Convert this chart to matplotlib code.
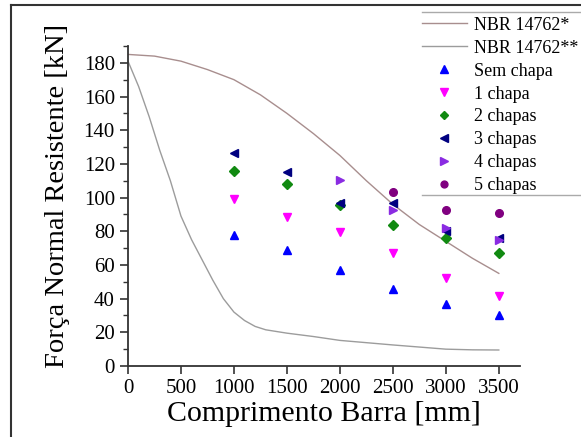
import matplotlib
matplotlib.use("Agg")
import matplotlib.pyplot as plt
from matplotlib.lines import Line2D
from matplotlib.ticker import MultipleLocator

plt.rcParams['font.family'] = ['Liberation Serif', 'DejaVu Serif']

# curvas da norma
nbr1_x = [0, 250, 500, 750, 1000, 1250, 1500, 1750, 2000, 2250, 2500, 2750, 3000, 3250, 3500]
nbr1_y = [185, 184, 181, 176, 170, 161, 150, 138, 125, 110, 96, 84, 74, 64, 55]
nbr2_x = [0, 100, 200, 300, 400, 500, 600, 700, 800, 900, 1000, 1100, 1200, 1300, 1500, 1750, 2000, 2500, 3000, 3250, 3500]
nbr2_y = [181, 166, 148, 128, 110, 89, 75, 63, 51, 40, 32, 27, 23.5, 21.5, 19.5, 17.5, 15.2, 12.5, 10, 9.6, 9.5]

# ensaios
sem_x = [1000, 1500, 2000, 2500, 3000, 3500]
sem_y = [77.8, 68.9, 57, 45.7, 36.8, 30.3]
c1_x = [1000, 1500, 2000, 2500, 3000, 3500]
c1_y = [99.2, 88.7, 79.8, 67.3, 52, 41.6]
c2_x = [1000, 1500, 2000, 2500, 3000, 3500]
c2_y = [115.9, 108, 95.7, 83.8, 76.2, 67.3]
c3_x = [1000, 1500, 2000, 2500, 3000, 3500]
c3_y = [126.3, 114.9, 97, 97, 80, 76.2]
c4_x = [2000, 2500, 3000, 3500]
c4_y = [110.5, 92.5, 82.2, 74.9]
c5_x = [2500, 3000, 3500]
c5_y = [103.2, 92.5, 91]

fig = plt.figure(figsize=(5.81, 4.37), dpi=100)
ax = fig.add_axes([128/581, 1-366/437, (520-128)/581, (366-46)/437])

ax.plot(nbr1_x, nbr1_y, color='#a88e8e', lw=1, label='NBR 14762*')
ax.plot(nbr2_x, nbr2_y, color='#9c9c9c', lw=1, label='NBR 14762**')
ms = 6
ax.plot(sem_x, sem_y, '^', color='#0000ff', ms=ms, ls='none', label='Sem chapa')
ax.plot(c1_x, c1_y, 'v', color='#ff00ff', ms=ms, ls='none', label='1 chapa')
ax.plot(c2_x, c2_y, 'D', color='#118a11', ms=5, ls='none', label='2 chapas')
ax.plot(c3_x, c3_y, '<', color='#000080', ms=ms, ls='none', label='3 chapas')
ax.plot(c4_x, c4_y, '>', color='#8a2be2', ms=ms, ls='none', label='4 chapas')
ax.plot(c5_x, c5_y, 'o', color='#800080', ms=5.5, ls='none', label='5 chapas')

ax.set_xlim(0, 3700)
ax.set_ylim(0, 190)
ax.xaxis.set_major_locator(MultipleLocator(500))
ax.yaxis.set_major_locator(MultipleLocator(20))
ax.yaxis.set_minor_locator(MultipleLocator(10))
ax.spines['top'].set_visible(False)
ax.spines['right'].set_visible(False)
for s in ['left', 'bottom']:
    ax.spines[s].set_color('#333333')
    ax.spines[s].set_linewidth(1.3)
ax.tick_params(which='major', direction='out', length=6, width=1.2, color='#333333', labelsize=15)
ax.tick_params(which='minor', direction='out', length=3.5, width=1, color='#333333')
ax.set_xlabel('Comprimento Barra [mm]', fontsize=21.5, labelpad=2)
ax.set_ylabel('Força Normal Resistente [kN]', fontsize=20.5)
ax.yaxis.set_label_coords(-0.148, 0.53)

leg = fig.legend(loc='upper left', bbox_to_anchor=(409/581, 1-4/437), frameon=False,
                 fontsize=13, handlelength=2.5, handletextpad=0.39, labelspacing=0.33,
                 borderpad=0.2, markerscale=0.9)

# moldura da legenda e da figura
fig.add_artist(Line2D([422/581, 1], [1-12/437, 1-12/437], color='#aaaaaa', lw=1, transform=fig.transFigure))
fig.add_artist(Line2D([422/581, 1], [1-195/437, 1-195/437], color='#aaaaaa', lw=1, transform=fig.transFigure))
fig.add_artist(Line2D([11/581, 11/581], [0, 1-5/437], color='#333333', lw=1.5, transform=fig.transFigure))
fig.add_artist(Line2D([11/581, 1], [1-5/437, 1-5/437], color='#333333', lw=1.5, transform=fig.transFigure))

fig.savefig('out.png', dpi=100)
